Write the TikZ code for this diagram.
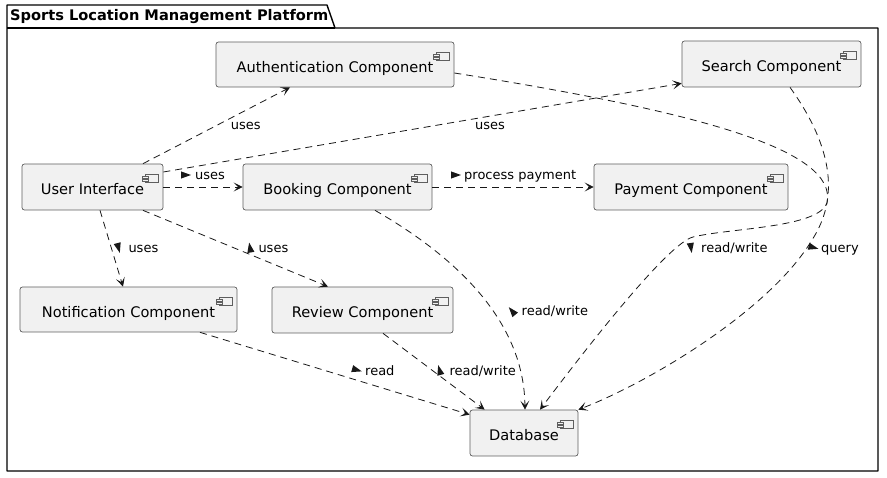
\documentclass[tikz,border=0pt]{standalone}
\usepackage{fontspec}
\setmainfont{DejaVu Sans}
\usetikzlibrary{arrows.meta,calc}
\definecolor{compfill}{HTML}{F1F1F1}
\definecolor{compline}{HTML}{5E5E5E}
\definecolor{edgecol}{HTML}{181818}
\tikzset{
  comp/.style={draw=compline, fill=compfill, rounded corners=2.5pt, line width=0.7pt,
    font=\fontsize{14.6}{16}\selectfont, text height=16pt, text depth=0pt, inner sep=0pt},
  dep/.style={draw=edgecol, line width=0.8pt, dash pattern=on 7pt off 5pt,
    -{Stealth[length=9pt,width=9pt,inset=4.5pt]}},
  lbl/.style={font=\fontsize{13}{15}\selectfont, anchor=base west, inner sep=0pt, text=black},
  iconst/.style={draw=compline, fill=compfill, line width=0.5pt}
}
\newcommand\compicon[1]{%
  \draw[iconst] ([shift={(-18,11)}]#1.north east) rectangle ([shift={(-5,19)}]#1.north east);
  \draw[iconst] ([shift={(-21,12.5)}]#1.north east) rectangle ([shift={(-15,14.5)}]#1.north east);
  \draw[iconst] ([shift={(-21,15.5)}]#1.north east) rectangle ([shift={(-15,17.5)}]#1.north east);
}
\newcommand\dirtri[3]{%
  \fill[edgecol, shift={(#1,#2)}, rotate=#3] (5,0) -- (-5,3.6) -- (-5,-3.6) -- cycle;
}
\begin{document}
\begin{tikzpicture}[x=1pt,y=-1pt]
\useasboundingbox (0,0) rectangle (887,478);
% package
\draw[line width=1.4pt, line join=round] (7,5) -- (327,5) -- (335,28) -- (878,28) -- (878,471) -- (7,471) -- cycle;
\draw[line width=1.4pt] (7,28) -- (335,28);
\node[font=\bfseries\fontsize{14.6}{16}\selectfont, anchor=base west, inner sep=0pt] (title) at (10,21) {Sports Location Management Platform};
% components
\node[comp, minimum width=238, minimum height=45] (auth) at (335,64.5) {Authentication Component\hspace{11pt}};
\node[comp, minimum width=179, minimum height=46] (search) at (771.5,64) {Search Component\hspace{11pt}};
\node[comp, minimum width=141, minimum height=46] (ui) at (92.5,187) {User Interface\hspace{10pt}};
\node[comp, minimum width=189, minimum height=46] (booking) at (337.5,187) {Booking Component\hspace{11pt}};
\node[comp, minimum width=194, minimum height=46] (payment) at (691,187) {Payment Component\hspace{11pt}};
\node[comp, minimum width=217, minimum height=45] (notif) at (128.5,309.5) {Notification Component\hspace{11pt}};
\node[comp, minimum width=181, minimum height=46] (review) at (362.5,310) {Review Component\hspace{11pt}};
\node[comp, minimum width=108, minimum height=46] (db) at (524,433) {Database\hspace{11pt}};
\compicon{auth}\compicon{search}\compicon{ui}\compicon{booking}
\compicon{payment}\compicon{notif}\compicon{review}\compicon{db}
% edges
\draw[dep] ([xshift=50.5]ui.north) -- ([xshift=-45]auth.south);
\draw[dep] ([yshift=15]ui.east) -- ([yshift=4]search.south west);
\draw[dep] (ui.east) -- (booking.west);
\draw[dep] (booking.east) -- (payment.west);
\draw[dep] ([xshift=7.5]ui.south) -- ([xshift=-5.5]notif.north);
\draw[dep] ([xshift=50.5]ui.south) -- ([xshift=-34.5]review.north);
\draw[dep] ([xshift=37.5]booking.south) .. controls (470,265) and (524,330) .. ([xshift=1]db.north);
\draw[dep] ([yshift=-8.5]auth.east) .. controls (700,112) and (838,150) .. (827,203)
  .. controls (818,228) and (730,228) .. (693,237)
  .. controls (670,243) and (600,330) .. ([xshift=16]db.north);
\draw[dep] ([xshift=18.5]search.south) .. controls (835,150) and (838,200) .. (812,240)
  .. controls (770,310) and (650,382) .. (db.north east);
\draw[dep] ([xshift=71.5]notif.south) -- ([yshift=-5]db.north west);
\draw[dep] ([xshift=20.5]review.south) -- ([xshift=15]db.north west);
% labels
\node[lbl] (l1) at (230.7,129.5) {uses};
\node[lbl] (l2) at (475,129.5) {uses};
\dirtri{186}{175}{0}
\node[lbl] (l3) at (195,179.5) {uses};
\dirtri{456}{175}{0}
\node[lbl] (l4) at (464,179.5) {process payment};
\dirtri{118.5}{248}{-75}
\node[lbl] (l5) at (128.3,252.7) {uses};
\dirtri{250}{247.5}{100}
\node[lbl] (l6) at (258.3,252.7) {uses};
\dirtri{512}{311}{130}
\node[lbl] (l7) at (521.5,315.5) {read/write};
\dirtri{691}{248}{-82}
\node[lbl] (l8) at (701,252.7) {read/write};
\dirtri{813.5}{247.5}{-15}
\node[lbl] (l9) at (821,252.7) {query};
\dirtri{357}{370}{-16}
\node[lbl] (l10) at (365,375.5) {read};
\dirtri{439.5}{370}{105}
\node[lbl] (l11) at (449.3,375.5) {read/write};
\end{tikzpicture}
\end{document}
